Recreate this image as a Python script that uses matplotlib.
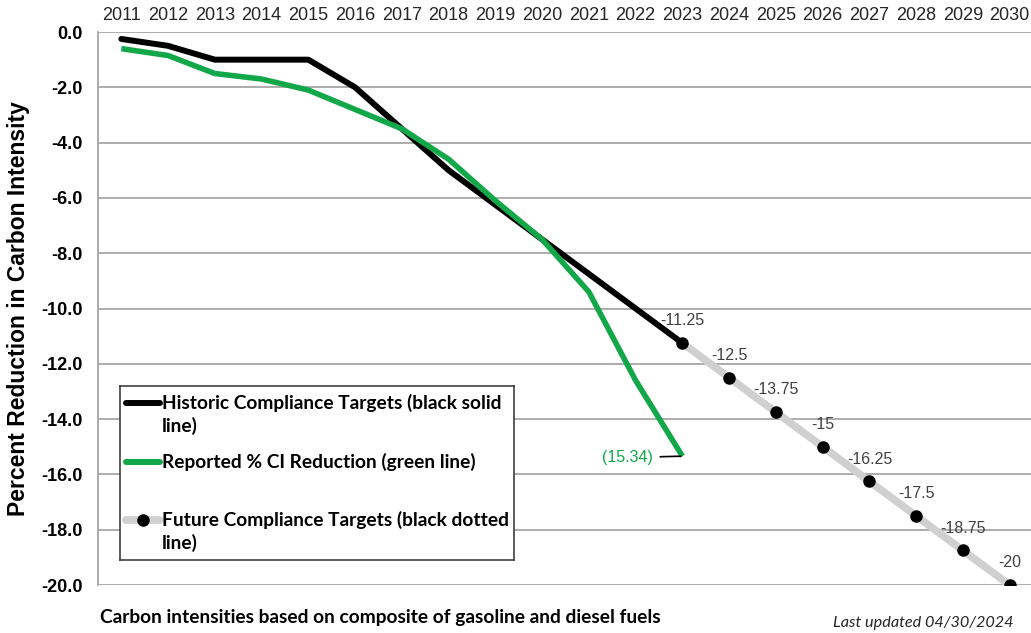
import matplotlib.pyplot as plt

years = list(range(2011, 2031))
hist_years = list(range(2011, 2024))
hist_targets = [-0.25, -0.5, -1.0, -1.0, -1.0, -2.0, -3.5, -5.0, -6.25, -7.5, -8.75, -10.0, -11.25]
reported = [-0.6, -0.85, -1.5, -1.7, -2.1, -2.8, -3.5, -4.6, -6.1, -7.5, -9.4, -12.6, -15.34]
future_years = list(range(2023, 2031))
future_targets = [-11.25, -12.5, -13.75, -15.0, -16.25, -17.5, -18.75, -20.0]
future_labels = ["-11.25", "-12.5", "-13.75", "-15", "-16.25", "-17.5", "-18.75", "-20"]
yticks = [0, -2, -4, -6, -8, -10, -12, -14, -16, -18, -20]

green = "#12a84a"
grey_band = "#d0d0d0"
grid_c = "#a6a6a6"

fig = plt.figure(figsize=(10.31, 6.33), dpi=100)
ax = fig.add_axes([0.095, 0.0758, 0.907, 0.8736])

# future targets: grey band with black dots
ax.plot(future_years, future_targets, color=grey_band, lw=5.5, zorder=2,
        solid_capstyle="butt")
ax.plot(future_years, future_targets, ls="none", marker="o", ms=8,
        color="black", zorder=4)
ax.plot(hist_years, hist_targets, color="black", lw=4.3, zorder=3,
        solid_capstyle="round")
ax.plot(hist_years, reported, color=green, lw=4.0, zorder=3,
        solid_capstyle="butt")

for x, y, s in zip(future_years, future_targets, future_labels):
    ax.annotate(s, (x, y), xytext=(0, 16), textcoords="offset points",
                ha="center", va="center", fontsize=11.5, color="#404040",
                family="Liberation Sans")

ax.annotate("(15.34)", (hist_years[-1], reported[-1]), xytext=(-21, -1),
            textcoords="offset points", ha="right", va="center",
            fontsize=11.5, color=green, family="Liberation Sans",
            arrowprops=dict(arrowstyle="-", color="black", lw=1.2,
                            shrinkA=3, shrinkB=1))

ax.set_xlim(2010.5, 2030.5)
ax.set_ylim(-20, 0)
ax.set_xticks(years)
ax.set_xticklabels([str(y) for y in years], fontsize=13,
                   family="Liberation Sans", color="#262626")
ax.xaxis.tick_top()
ax.tick_params(axis="x", length=0, pad=6)
ax.set_yticks(yticks)
ax.set_yticklabels([f"{v:.1f}" for v in yticks], fontsize=13,
                   fontweight="bold", family="Liberation Sans")
ax.tick_params(axis="y", length=0, pad=11)
ax.grid(axis="y", color=grid_c, lw=1.3)
ax.set_axisbelow(True)
for side in ["top", "right", "bottom"]:
    ax.spines[side].set_visible(False)
ax.spines["left"].set_color(grid_c)
ax.spines["left"].set_linewidth(1.3)

ax.set_ylabel("Percent Reduction in Carbon Intensity", fontsize=16.5,
              fontweight="bold", family="Liberation Sans", labelpad=8)

# legend box drawn in its own small axes, pixel units from its top-left corner
lg = fig.add_axes([120 / 1031, 1 - 560 / 633, 394 / 1031, 174 / 633])
lg.set_xlim(0, 394)
lg.set_ylim(174, 0)
lg.set_xticks([])
lg.set_yticks([])
for s in lg.spines.values():
    s.set_color("#404040")
    s.set_linewidth(1.2)
lg.patch.set_facecolor("white")

leg_font = dict(family="Lato", fontweight="bold", fontsize=13.8, va="center")
lg.plot([6, 40], [17, 17], color="black", lw=4.3, solid_capstyle="round")
lg.text(42, 17, "Historic Compliance Targets (black solid", **leg_font)
lg.text(42, 40, "line)", **leg_font)
lg.plot([6, 40], [76, 76], color=green, lw=4.3, solid_capstyle="round")
lg.text(42, 76, "Reported % CI Reduction (green line)", **leg_font)
lg.plot([6, 40], [134, 134], color=grey_band, lw=5.5, solid_capstyle="round")
lg.plot([23], [134], marker="o", ms=8, color="black")
lg.text(42, 134, "Future Compliance Targets (black dotted", **leg_font)
lg.text(42, 157, "line)", **leg_font)

fig.text(0.097, 0.025, "Carbon intensities based on composite of gasoline and diesel fuels",
         fontsize=13.8, fontweight="bold", family="Lato", va="center")
fig.text(0.983, 0.016, "Last updated 04/30/2024", fontsize=11.7, style="italic",
         family="Lato", ha="right", va="center", color="#262626")

plt.savefig("out.png", dpi=100)
plt.close()
